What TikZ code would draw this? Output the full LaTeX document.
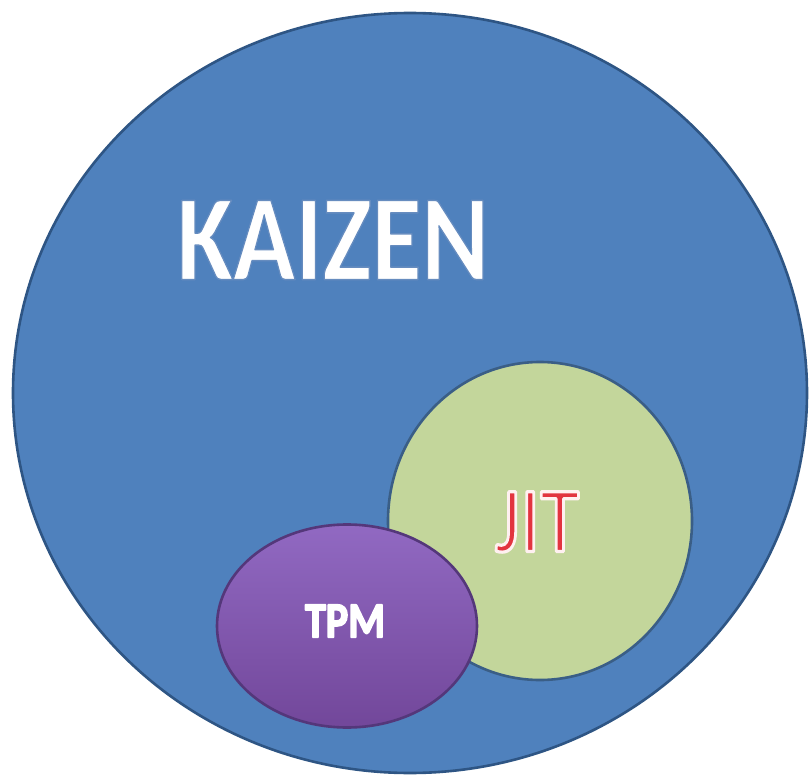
\documentclass[tikz,border=0pt]{standalone}
\usepackage{fontspec}
\setmainfont{Carlito}
\usetikzlibrary{shapes.geometric}
\definecolor{kzblue}{HTML}{4F81BD}
\definecolor{kzline}{HTML}{2E5584}
\definecolor{jitgreen}{HTML}{C3D69B}
\definecolor{jitline}{HTML}{3A5E86}
\definecolor{jitred}{HTML}{E2343F}
\definecolor{tpmtop}{HTML}{9169C2}
\definecolor{tpmbot}{HTML}{72479A}
\definecolor{tpmline}{HTML}{54377A}
% letters filled in the current colour, their edges stroked in another:
% #1 stroke width, #2 stroke colour as "r g b", #3 the word
\newcommand\edgedword[3]{%
  \special{pdf:literal direct 2 Tr #1 w 1 j #2 RG}#3\special{pdf:literal direct 0 Tr}}
\tikzset{
  bubble/.style={ellipse, inner sep=0pt, line width=2.6pt},
  label text/.style={inner sep=0pt, text=white}
}
\begin{document}
\begin{tikzpicture}[x=1pt,y=-1pt]
\useasboundingbox[fill=white] (0,0) rectangle (812,776);
% outer circle
\node[bubble, draw=kzline, fill=kzblue, minimum width=794pt, minimum height=760pt] (kaizen) at (410,393) {};
% JIT circle
\node[bubble, draw=jitline, fill=jitgreen, minimum width=304pt, minimum height=318pt] (jit) at (540,521) {};
% TPM ellipse
\node[bubble, draw=tpmline, top color=tpmtop, bottom color=tpmbot, minimum width=260pt, minimum height=203pt] (tpm) at (347,626) {};
% KAIZEN label, white with a soft darker edge
\node[label text, font=\bfseries\fontsize{122}{122}\selectfont] (kztext) at (333,240)
  {\scalebox{0.84}[1]{\edgedword{1.4}{0.40 0.55 0.75}{KAIZEN}}};
% JIT label, red letters with a pale outline
\node[label text, text=jitred, font=\fontsize{93}{93}\selectfont] (jittext) at (537,522)
  {\scalebox{0.86}[1]{\edgedword{3.2}{1 0.94 0.94}{JIT}}};
% TPM label, heavy white letters
\node[label text, font=\bfseries\fontsize{50}{50}\selectfont] (tpmtext) at (345,621)
  {\scalebox{0.84}[1]{\edgedword{1.8}{1 1 1}{TPM}}};
\end{tikzpicture}
\end{document}
